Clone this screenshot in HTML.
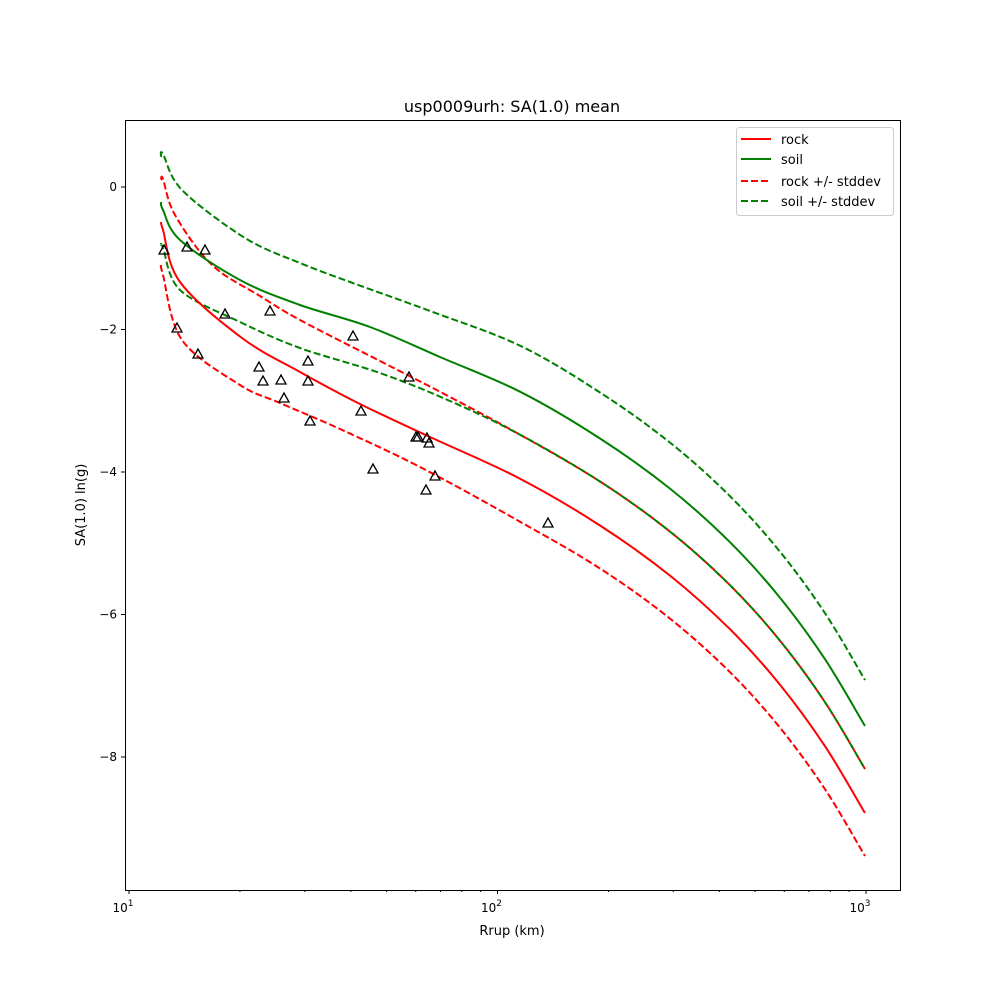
<!DOCTYPE html>
<html><head><meta charset="utf-8"><style>
body{margin:0;background:#fff}
svg text{font-family:"DejaVu Sans","Liberation Sans",sans-serif;fill:#000}
</style></head><body>
<svg id="s" width="1000" height="1000" viewBox="0 0 1000 1000" xmlns="http://www.w3.org/2000/svg">
<rect width="1000" height="1000" fill="#fff"/>
<text x="512" y="112" font-size="16" text-anchor="middle">usp0009urh: SA(1.0) mean</text>
<g id="curves" fill="none" stroke-width="2"></g>
<g id="tri" fill="none" stroke="#000" stroke-width="1.3"></g>
<rect x="125.5" y="120.5" width="775" height="770" fill="none" stroke="#000" stroke-width="1"/>
<g id="ax" stroke="#000" stroke-width="1"></g>
<g font-size="12" id="lab"></g>
<text x="512" y="935" font-size="13" text-anchor="middle">Rrup (km)</text>
<text x="0" y="0" font-size="13" text-anchor="middle" transform="translate(85,505) rotate(-90)">SA(1.0) ln(g)</text>
<rect x="736.5" y="127.5" width="157" height="88" rx="3" fill="#fff" stroke="#ccc"/>
<g stroke-width="2">
<line x1="741" y1="139" x2="771" y2="139" stroke="#ff0000"/>
<line x1="741" y1="159" x2="771" y2="159" stroke="#008000"/>
<line x1="741" y1="181" x2="771" y2="181" stroke="#ff0000" stroke-dasharray="7,3"/>
<line x1="741" y1="201" x2="771" y2="201" stroke="#008000" stroke-dasharray="7,3"/>
</g>
<g font-size="13">
<text x="781" y="144">rock</text><text x="781" y="164">soil</text>
<text x="781" y="186">rock +/- stddev</text><text x="781" y="206">soil +/- stddev</text>
</g>
</svg>
<script>
var ns="http://www.w3.org/2000/svg";
function el(p,t,a,txt){var e=document.createElementNS(ns,t);for(var k in a)e.setAttribute(k,a[k]);if(txt!==undefined)e.innerHTML=txt;document.getElementById(p).appendChild(e);return e;}
function path(P){var d="M"+P[0][0]+","+P[0][1];for(var i=0;i<P.length-1;i++){var p0=P[Math.max(0,i-1)],p1=P[i],p2=P[i+1],p3=P[Math.min(P.length-1,i+2)];
var c1=[p1[0]+(p2[0]-p0[0])/6,p1[1]+(p2[1]-p0[1])/6],c2=[p2[0]-(p3[0]-p1[0])/6,p2[1]-(p3[1]-p1[1])/6];
d+=" C"+c1[0].toFixed(1)+","+c1[1].toFixed(1)+" "+c2[0].toFixed(1)+","+c2[1].toFixed(1)+" "+p2[0]+","+p2[1].toFixed(1);}return d;}
function f(x){var r=Math.pow(10,1+(x-129)/368.5);return 262.5+0.363*x+0.238*r;}
function build(left,off){
  var P=left.slice();
  [520,600,670,730,780,825,865].forEach(function(x){P.push([x,f(x)+off]);});
  return P;
}
var R="#ff0000",G="#008000";
var curves=[
[R,1,build([[161,180],[163,179],[175,215],[212,265],[260,296],[300,320],[380,361],[450,397]],-44)],
[R,1,build([[161,265],[163,275],[182,340],[240,385],[280,403],[340,429],[420,467]],43)],
[G,1,build([[161,157],[163,154],[182,190],[245,238],[300,263],[350,282],[430,311]],-133)],
[G,1,build([[161,245],[163,248],[180,290],[240,322],[300,348],[380,373],[450,401]],-44)],
[R,0,build([[161,222],[163,230],[180,282],[242,338],[300,372],[360,404],[430,437]],0)],
[G,0,build([[161,202],[163,210],[180,240],[240,280],[300,305],[370,327],[440,357]],-87)]
];
curves.forEach(function(c){var a={d:path(c[2]),stroke:c[0]};if(c[1])a["stroke-dasharray"]="7,3";el("curves","path",a);});
var pts=[[164,250],[187,247],[205,250],[177,328],[198,354],[225,314],[270,311],[259,367],[263,381],[281,380],[284,398],[308,361],[308,381],[310,421],[353,336],[361,411],[373,469],[409,377],[416,437],[418,437],[427,438],[429,443],[426,490],[435,476],[548,523]];
pts.forEach(function(p){el("tri","polygon",{points:(p[0])+","+(p[1]-5)+" "+(p[0]-5)+","+(p[1]+4)+" "+(p[0]+5)+","+(p[1]+4)});});
function X(r){return 129+368.5*(Math.log10(r)-1);}
for(var d=1;d<=3;d++){for(var m=1;m<10;m++){var r=m*Math.pow(10,d);if(r>1200)break;var x=X(r);if(x<125)continue;
el("ax","line",{x1:x,y1:890,x2:x,y2:m==1?894:892});}}
[1,2,3].forEach(function(d){var x=X(Math.pow(10,d));el("lab","text",{x:x-6,y:912,"text-anchor":"middle"},"10<tspan font-size='9' dy='-6'>"+d+"</tspan>");});
[0,-2,-4,-6,-8].forEach(function(v){var y=187-71.25*v;el("ax","line",{x1:121,y1:y,x2:125,y2:y});el("lab","text",{x:117,y:y+4,"text-anchor":"end"},v==0?"0":"\u2212"+(-v));});
</script>
</body></html>
